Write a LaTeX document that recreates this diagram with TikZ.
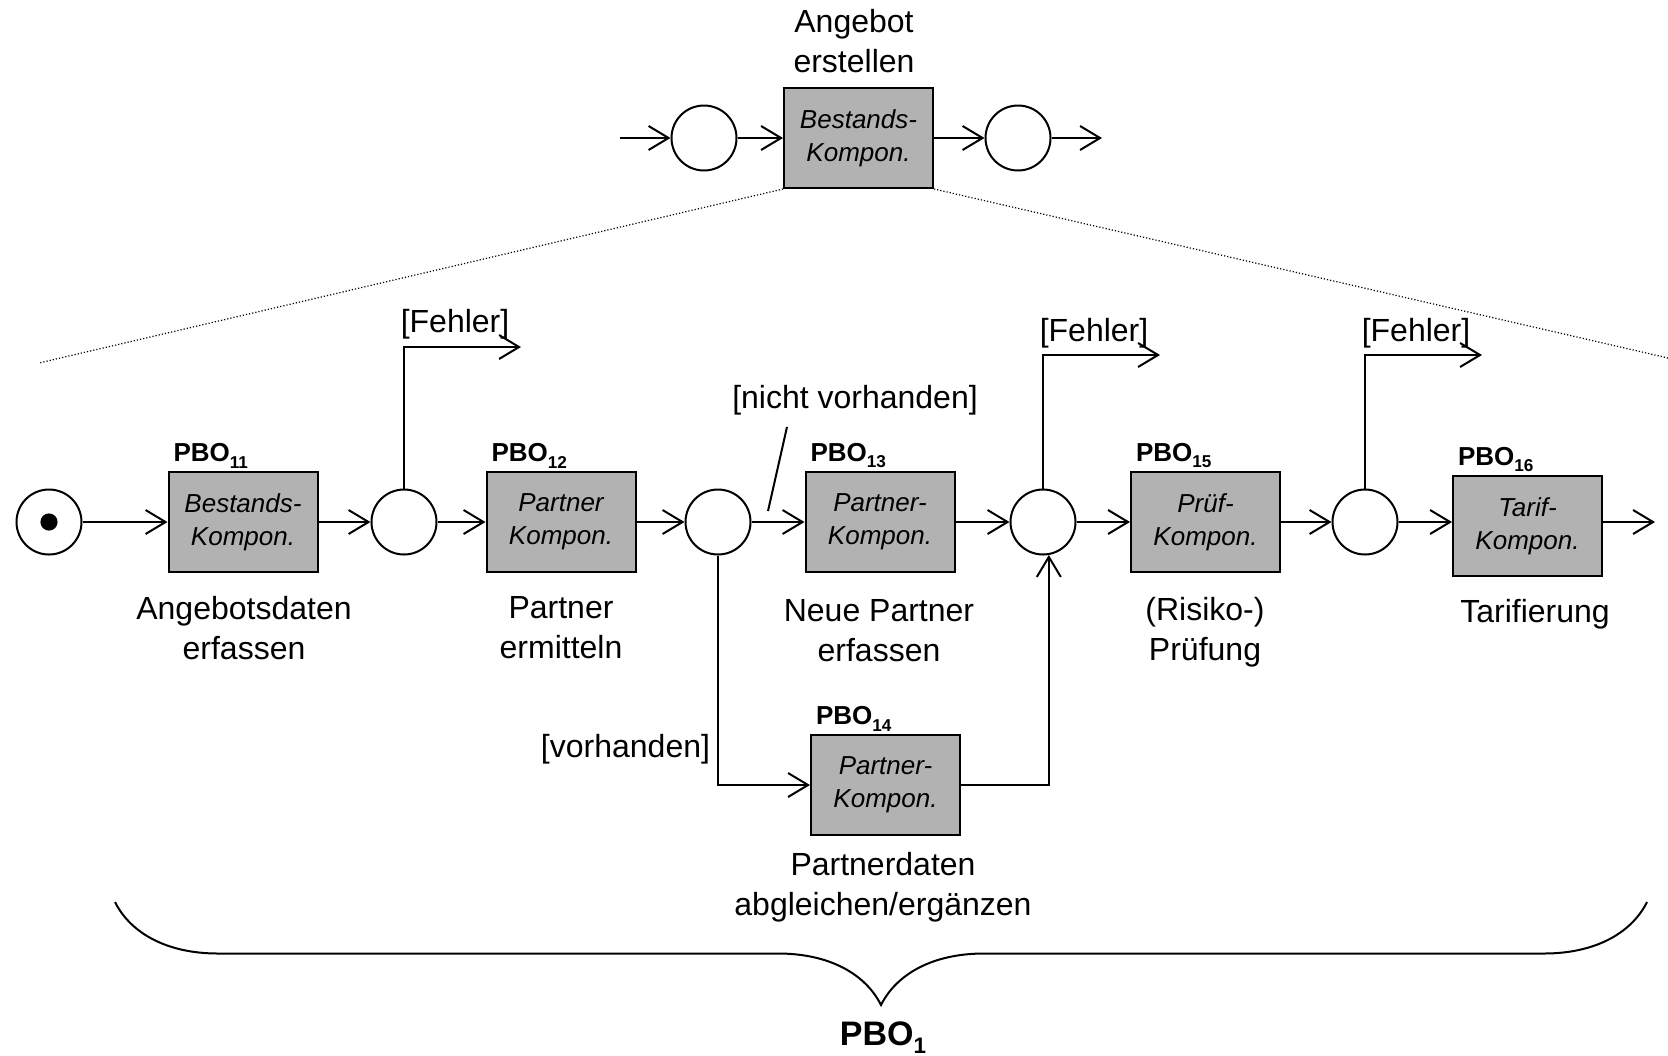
\documentclass[tikz,border=0pt]{standalone}
\usepackage{fontspec}
\setmainfont{Liberation Sans}
\usetikzlibrary{arrows.meta,decorations.pathreplacing,positioning}

\definecolor{kompgray}{RGB}{178,178,178}

% tiefgestellte Nummer am PBO-Namen
\newcommand{\tiefzahl}[1]{\raisebox{-0.24em}{\scalebox{0.66}{#1}}}

\tikzset{
  komp/.style={draw, fill=kompgray, minimum width=74.5pt, minimum height=50pt,
    inner sep=0pt, align=center, font=\fontsize{13}{16.5}\selectfont\itshape},
  stelle/.style={draw, circle, minimum size=32.5pt, inner sep=0pt},
  desc/.style={align=center, font=\fontsize{16}{20}\selectfont},
  cond/.style={inner sep=0pt, font=\fontsize{16}{20}\selectfont},
  pbo/.style={anchor=south west, inner xsep=2.5pt, inner ysep=1pt,
    font=\fontsize{13}{15}\selectfont\bfseries},
  flow/.style={-{Straight Barb[length=10pt,width=12pt]}},
}

\begin{document}
\begin{tikzpicture}[x=0.5pt, y=-0.5pt, line width=1pt]
  \useasboundingbox (0,0) rectangle (1668,1055);

  % Vorgang oben
  \node[komp] (top) at (858.5,138) {Bestands-\\Kompon.};
  \node[stelle] (top1) at (704,138) {};
  \node[stelle] (top2) at (1018,138) {};
  \node[desc] (topname) at (854,41) {Angebot\\erstellen};
  \coordinate (topin) at (620,138);
  \coordinate (topout) at (1102,138);
  \foreach \a/\b in {topin/top1, top1/top, top/top2, top2/topout}
    \draw[flow] (\a) -- (\b);

  % Verfeinerung
  \coordinate (zoomL) at (39,363);
  \coordinate (zoomR) at (1668,358);
  \draw[densely dotted, line width=0.6pt] (top.south west) -- (zoomL);
  \draw[densely dotted, line width=0.6pt] (top.south east) -- (zoomR);

  % Hauptfluss
  \node[stelle] (start) at (49,522) {};
  \fill (start.center) circle (4.3pt);
  \node[komp] (pbo11) at (243,522) {Bestands-\\Kompon.};
  \node[stelle] (s1) at (404,522) {};
  \node[komp] (pbo12) at (561,522) {Partner\\Kompon.};
  \node[stelle] (s2) at (718,522) {};
  \node[komp] (pbo13) at (880,522) {Partner-\\Kompon.};
  \node[stelle] (s3) at (1043,522) {};
  \node[komp] (pbo15) at (1205.5,522) {Prüf-\\Kompon.};
  \node[stelle] (s4) at (1365,522) {};
  \node[komp] (pbo16) at (1527.5,526) {Tarif-\\Kompon.};
  \node[komp] (pbo14) at (885.5,785) {Partner-\\Kompon.};
  \coordinate (ende) at (1655,522);

  \foreach \k in {11,12,13,14,15,16}
    \node[pbo] at (pbo\k.north west) {PBO\tiefzahl{\k}};

  \foreach \a/\b in {start/pbo11, pbo11/s1, s1/pbo12, pbo12/s2, s2/pbo13,
                     pbo13/s3, s3/pbo15, pbo15/s4}
    \draw[flow] (\a) -- (\b);
  \draw[flow] (s4) -- (s4 -| pbo16.west);
  \draw[flow] (pbo16.east |- ende) -- (ende);

  % Beschriftungen
  \node[desc] at (244,628) {Angebotsdaten\\erfassen};
  \node[desc] at (561,628) {Partner\\ermitteln};
  \node[desc] at (879,631) {Neue Partner\\erfassen};
  \node[desc] at (1205,632) {(Risiko-)\\Prüfung};
  \node[desc] at (1535,614) {Tarifierung};
  \node[desc] at (883,887) {Partnerdaten\\abgleichen/ergänzen};

  % Fehlerausgaenge
  \coordinate (f1) at (521,347);
  \coordinate (f3) at (1160,355);
  \coordinate (f4) at (1482,355);
  \draw[flow] (s1.north) |- (f1);
  \draw[flow] (s3.north) |- (f3);
  \draw[flow] (s4.north) |- (f4);
  \node[cond] at (455,324) {[Fehler]};
  \node[cond] at (1094,333) {[Fehler]};
  \node[cond] at (1416,333) {[Fehler]};

  % Partner vorhanden / nicht vorhanden
  \draw[flow] (s2.south) |- (pbo14.west);
  \draw[flow] (pbo14.east) -| (s3.-80);
  \node[cond, anchor=east] (vh) at (711,749) {[vorhanden]};
  \node[cond] (nv) at (855,400) {[nicht vorhanden]};
  \coordinate (nvfuss) at (768,511);
  \draw ([xshift=-34pt,yshift=-5.5pt]nv.south) -- (nvfuss);

  % Klammer
  \coordinate (klL) at (115,902);
  \coordinate (klR) at (1647,902);
  \draw[decorate, decoration={brace, mirror, amplitude=51.5pt}] (klL) -- (klR);
  \node[anchor=base, inner sep=0pt, font=\fontsize{17}{20}\selectfont\bfseries]
    (pbo1) at (883,1045) {PBO\tiefzahl{1}};
\end{tikzpicture}
\end{document}
